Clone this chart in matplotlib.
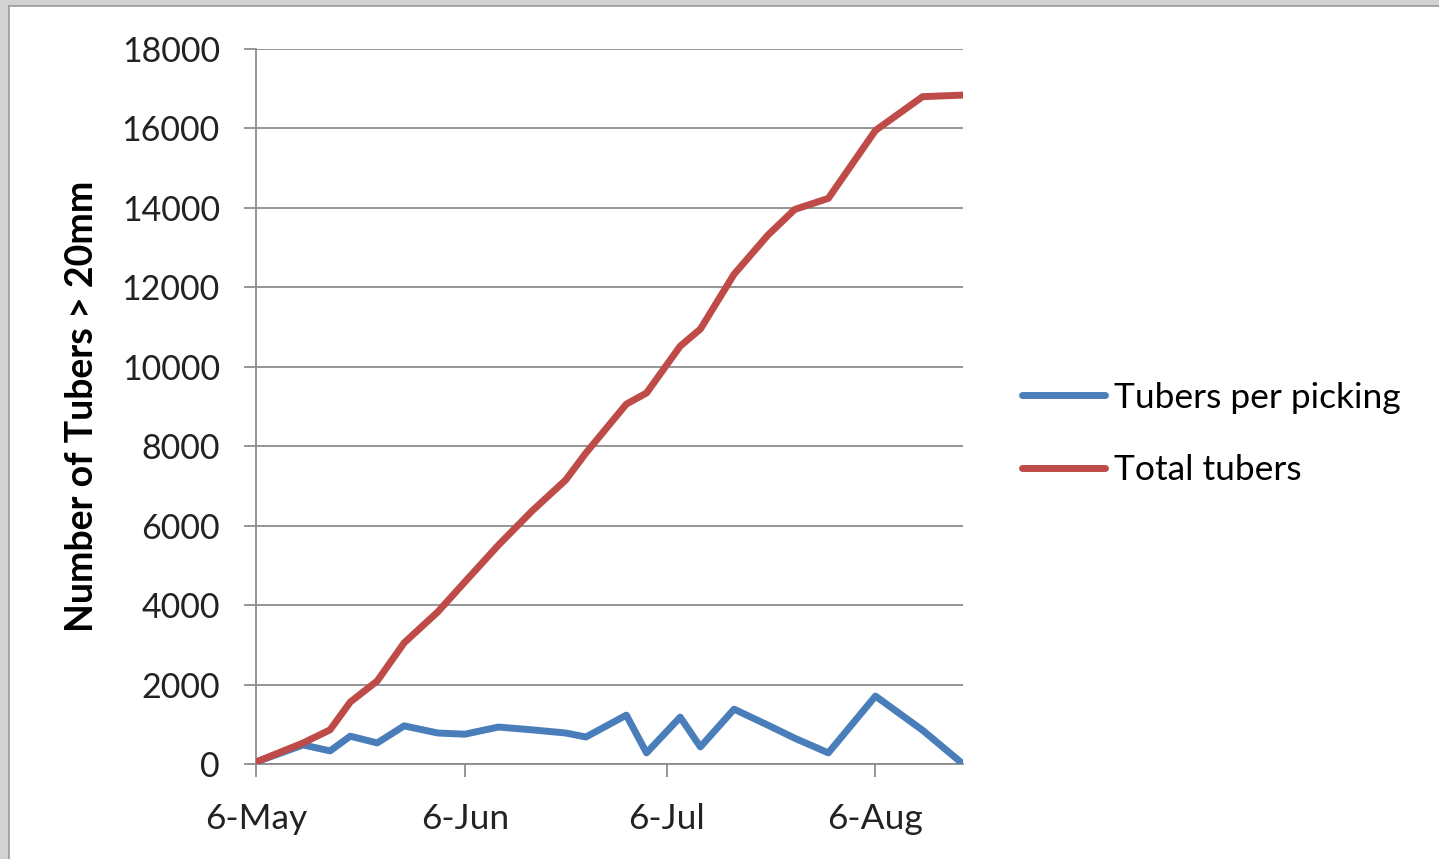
"""
Tuber counts over the picking season.

Draws tubers per picking and the running total as two lines and saves out.png.
"""

import datetime as dt

import matplotlib.pyplot as plt
import matplotlib.dates as mdates
from matplotlib.patches import Rectangle
from matplotlib.lines import Line2D

# picking dates (day, month)
picking_days = [
    (6, 5), (13, 5), (17, 5), (20, 5), (24, 5), (28, 5), (2, 6), (6, 6),
    (11, 6), (16, 6), (21, 6), (24, 6), (30, 6), (3, 7), (8, 7), (11, 7),
    (16, 7), (21, 7), (25, 7), (30, 7), (6, 8), (13, 8), (19, 8),
]
tubers_per_picking = [
    50, 480, 330, 700, 530, 960, 780, 750, 930, 860, 780, 680,
    1230, 280, 1180, 430, 1380, 980, 650, 280, 1710, 850, 0,
]
total_tubers = [
    50, 530, 860, 1560, 2090, 3050, 3830, 4580, 5510, 6370, 7150, 7830,
    9060, 9340, 10520, 10950, 12330, 13310, 13960, 14240, 15950, 16800, 16840,
]
series_labels = ["Tubers per picking", "Total tubers"]
month_ticks = [(6, 5), (6, 6), (6, 7), (6, 8)]

YEAR = 2012
BLUE = "#4a7ebb"
RED = "#be4b48"
GRID = "#8c8c8c"


def to_date(day_month):
    day, month = day_month
    return dt.date(YEAR, month, day)


def generate_plot():
    plt.rcParams["font.family"] = ["Lato", "DejaVu Sans"]

    fig = plt.figure(figsize=(14.39, 8.59), dpi=100)
    fig.patch.set_facecolor("white")

    # grey frame along the top and left edges
    fig.patches.append(Rectangle((0, 1 - 6 / 859), 1, 6 / 859, transform=fig.transFigure,
                                 facecolor="#d2d2d2", edgecolor="none", zorder=0))
    fig.patches.append(Rectangle((0, 0), 9 / 1439, 1, transform=fig.transFigure,
                                 facecolor="#d2d2d2", edgecolor="none", zorder=0))
    fig.lines.append(Line2D([9 / 1439, 1], [1 - 6 / 859] * 2, transform=fig.transFigure,
                            color="#9a9a9a", lw=1.2))
    fig.lines.append(Line2D([9 / 1439] * 2, [0, 1 - 6 / 859], transform=fig.transFigure,
                            color="#9a9a9a", lw=1.2))

    ax = fig.add_axes([256 / 1439, 95 / 859, 707 / 1439, 715 / 859])

    dates = [to_date(d) for d in picking_days]
    ax.plot(dates, tubers_per_picking, color=BLUE, lw=5, label=series_labels[0],
            solid_joinstyle="round", solid_capstyle="round", zorder=3)
    ax.plot(dates, total_tubers, color=RED, lw=5, label=series_labels[1],
            solid_joinstyle="round", solid_capstyle="round", zorder=4)

    ax.set_xlim(to_date((6, 5)), to_date((19, 8)))
    ax.set_ylim(0, 18000)
    ax.set_yticks(range(0, 18001, 2000))
    ax.set_xticks([to_date(d) for d in month_ticks])
    ax.xaxis.set_major_formatter(mdates.DateFormatter("%-d-%b"))

    ax.grid(axis="y", color=GRID, lw=1.3)
    ax.set_axisbelow(True)
    for side in ["top", "right"]:
        ax.spines[side].set_visible(False)
    for side in ["left", "bottom"]:
        ax.spines[side].set_color(GRID)
        ax.spines[side].set_linewidth(1.3)

    ax.tick_params(axis="y", length=9, width=1.3, color=GRID, pad=17,
                   labelsize=24.5, labelcolor="#222222")
    ax.tick_params(axis="x", length=9, width=1.3, color=GRID, pad=19,
                   labelsize=25.5, labelcolor="#222222")

    ax.set_ylabel("Number of Tubers > 20mm", fontsize=27, fontweight="bold",
                  labelpad=16, color="black")

    fig.legend(loc="center left", bbox_to_anchor=(1004 / 1439, 1 - 434 / 859),
               frameon=False, fontsize=25.5, handlelength=2.35, handletextpad=0.25,
               labelspacing=1.15, borderpad=0)

    fig.savefig("out.png", dpi=100, facecolor=fig.get_facecolor())


if __name__ == "__main__":
    generate_plot()
